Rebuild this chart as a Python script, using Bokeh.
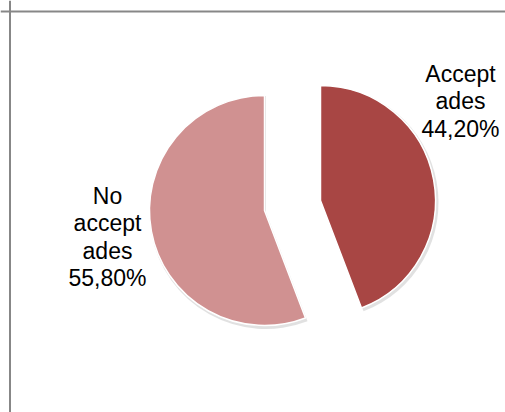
import math
import numpy as np
from bokeh.plotting import figure
from bokeh.models import Range1d, ColumnDataSource, Span
from bokeh.core.properties import value
from bokeh.embed import file_html
from bokeh.resources import INLINE

# data
categories = ["Accept\nades", "No\naccept\nades"]
shares = [44.20, 55.80]
labels = ["44,20%", "55,80%"]
colors = ["#A84644", "#D09191"]

# data units == picture pixels (y measured upward from bottom)
W, H = 505, 412
p = figure(width=W, height=H, output_backend="svg", toolbar_location=None,
           x_range=Range1d(0, W), y_range=Range1d(0, H),
           min_border=0, match_aspect=False)
p.axis.visible = False
p.grid.visible = False
p.outline_line_color = None
p.background_fill_color = "white"
p.border_fill_color = "white"

# frame (left and top edges visible in the reference)
p.add_layout(Span(location=9.5, dimension="height", line_color="#878787", line_width=2))
p.add_layout(Span(location=412 - 11, dimension="width", line_color="#878787", line_width=2))

# pie geometry (layout)
radius = 115
centers = [(320, 412 - 200), (264, 412 - 210)]

frac = np.array(shares) / sum(shares)
cum = np.concatenate([[0], np.cumsum(frac)])
ends = math.pi / 2 - 2 * math.pi * cum[:-1]
starts = math.pi / 2 - 2 * math.pi * cum[1:]

src = ColumnDataSource(dict(
    x=[c[0] for c in centers], y=[c[1] for c in centers],
    start=starts, end=ends, color=colors,
    sx=[c[0] + 1.5 for c in centers], sy=[c[1] - 2 for c in centers],
))
# soft shadow
p.wedge(x="sx", y="sy", radius=radius + 1.5, start_angle="start", end_angle="end",
        source=src, fill_color="#bdbdbd", fill_alpha=0.45, line_color=None)
p.wedge(x="x", y="y", radius=radius, start_angle="start", end_angle="end",
        source=src, fill_color="color", line_color="white", line_width=1.5)

# labels
font = value("Liberation Sans")
label_pos = [(460, 412 - 73), (107, 412 - 195)]
line_h = 27.6
for cat, lab, (lx, ly) in zip(categories, labels, label_pos):
    lines = cat.split("\n") + [lab]
    ys = [ly - i * line_h for i in range(len(lines))]
    p.text(x=[lx] * len(lines), y=ys, text=lines, text_font=font,
           text_font_size="23px", text_align="center", text_baseline="middle",
           text_color="black")

open("out.html", "w").write(file_html(p, INLINE))
